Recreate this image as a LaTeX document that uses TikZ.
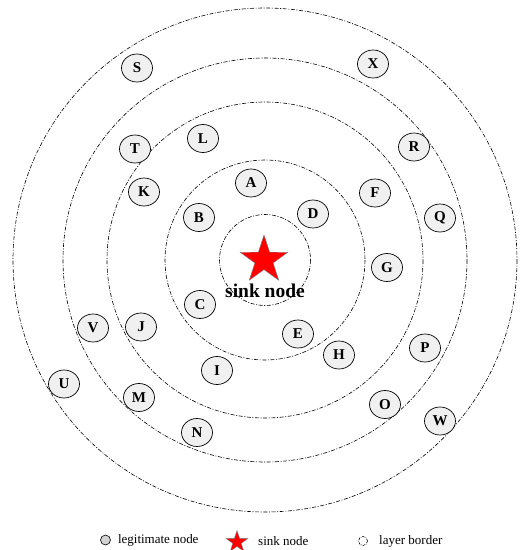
\documentclass[tikz,border=0pt]{standalone}
\usepackage{fontspec}
\setmainfont{Liberation Serif}
\usepackage{tikz}
\usetikzlibrary{shapes.geometric,positioning}
\definecolor{nodegray}{rgb}{0.94,0.94,0.94}

\begin{document}
\begin{tikzpicture}[x=1pt, y=-1pt,
    layer/.style={draw, line width=0.6pt, dash pattern=on 4pt off 1.6pt on 1pt off 1.6pt},
    sensor/.style={ellipse, draw, line width=0.7pt, fill=nodegray, minimum width=31pt, minimum height=28pt, inner sep=0pt, font=\fontsize{15}{16}\selectfont\bfseries},
    sink/.style={star, star points=5, star point ratio=2.6, draw=gray, fill=red, inner sep=0pt}]
    \useasboundingbox (0,0) rectangle (520,550);
    % Draw the layer borders
    \coordinate (centre) at (265,260);
    \draw[layer] (centre) circle [radius=45.5];
    \draw[layer] (centre) circle [radius=100];
    \draw[layer] (centre) circle [radius=158];
    \draw[layer] (centre) circle [radius=202];
    \draw[layer] (centre) circle [radius=252];
    % Draw the sink node
    \node[sink, minimum size=50pt] (sink) at (264,260) {};
    \node[font=\fontsize{19.5}{20}\selectfont\bfseries] (sinklabel) at (265,291) {sink node};
    % Draw the legitimate nodes
    \node[sensor] (S) at (137,68) {S};
    \node[sensor] (X) at (373,64) {X};
    \node[sensor] (L) at (203,138.5) {L};
    \node[sensor] (T) at (135,149) {T};
    \node[sensor] (R) at (414,147) {R};
    \node[sensor] (A) at (251,183) {A};
    \node[sensor] (K) at (144,192) {K};
    \node[sensor] (F) at (375,193) {F};
    \node[sensor] (B) at (199,217.5) {B};
    \node[sensor] (D) at (313,214) {D};
    \node[sensor] (Q) at (440,218) {Q};
    \node[sensor] (G) at (387,267.5) {G};
    \node[sensor] (C) at (200,304.5) {C};
    \node[sensor] (V) at (93,328) {V};
    \node[sensor] (J) at (141,327) {J};
    \node[sensor] (E) at (298,334) {E};
    \node[sensor] (H) at (339,355) {H};
    \node[sensor] (P) at (425,348) {P};
    \node[sensor] (I) at (217,370.5) {I};
    \node[sensor] (U) at (64,384) {U};
    \node[sensor] (M) at (139,397.5) {M};
    \node[sensor] (O) at (385,404.5) {O};
    \node[sensor] (W) at (440,421) {W};
    \node[sensor] (N) at (197,432.5) {N};
    % Draw the legend
    \node[circle, draw, line width=0.6pt, fill=gray!35, minimum size=10pt, inner sep=0pt] (keynode) at (105.5,540) {};
    \node[right=7pt of keynode, inner sep=0pt, font=\fontsize{13}{14}\selectfont] (keynodetext) {legitimate node};
    \node[sink, minimum size=23pt] (keysink) at (237,542) {};
    \node[inner sep=0pt, font=\fontsize{13}{14}\selectfont, anchor=west] (keysinktext) at (258,541) {sink node};
    \node[circle, layer, minimum size=9pt, inner sep=0pt, dash pattern=on 2.5pt off 1pt on 0.6pt off 1pt] (keylayer) at (363,541) {};
    \node[inner sep=0pt, font=\fontsize{13}{14}\selectfont, anchor=west] (keylayertext) at (379,541) {layer border};
\end{tikzpicture}
\end{document}
